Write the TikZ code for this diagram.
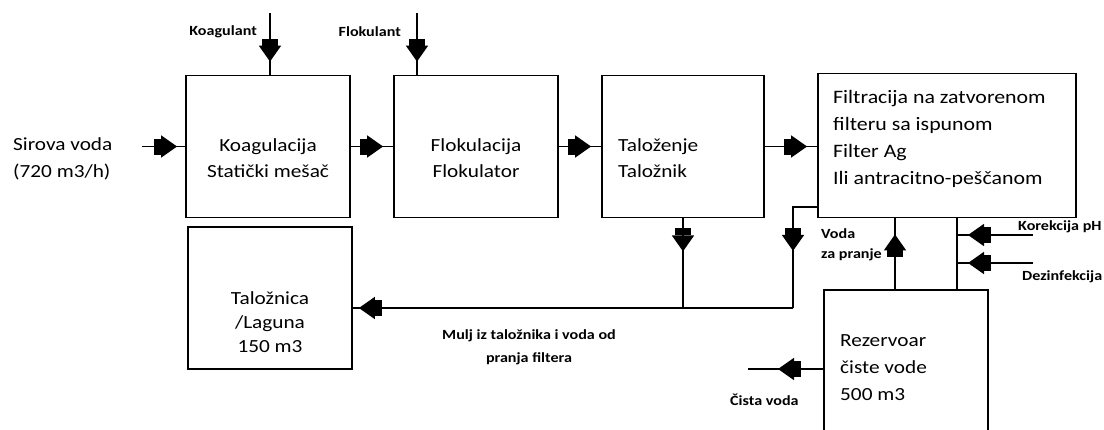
\documentclass[tikz,border=0pt]{standalone}
\usepackage{fontspec}
\setmainfont{Carlito}[FakeStretch=1.15]
\usetikzlibrary{arrows.meta,decorations.markings}
\newcommand\mainsz{\fontsize{18.5pt}{26pt}\selectfont}
\newcommand\wide{\fontsize{18.5pt}{27pt}\selectfont}
\newcommand\smallsz{\fontsize{14pt}{20pt}\selectfont\bfseries}
\tikzset{
  bigtip/.tip={Rectangle[length=7pt,width=16pt,sep=0pt]Triangle[length=16pt,width=22pt,sep=0pt]},
  box/.style={draw, line width=1.8pt, inner sep=0pt},
  conn/.style={line width=1.8pt},
  flowat/.style={postaction={decorate}, decoration={markings, mark=at position #1 with {\arrow{bigtip}}}},
  txt/.style={inner sep=0pt, font=\mainsz, align=center},
  ltxt/.style={inner sep=0pt, font=\wide, align=left, anchor=west},
  lbl/.style={inner sep=0pt, font=\smallsz},
}
\begin{document}
\begin{tikzpicture}[x=1pt,y=-1pt]
\useasboundingbox (0,0) rectangle (1104,429);
\clip (0,0) rectangle (1104,429);
\fill[white] (0,0) rectangle (1104,429);
% boxes
\node[box, minimum width=164pt, minimum height=142pt] (koag) at (268,146.5) {};
\node[box, minimum width=164pt, minimum height=142pt] (flok) at (476,146.5) {};
\node[box, minimum width=162pt, minimum height=142pt] (tal) at (683,146.5) {};
\node[box, minimum width=258pt, minimum height=144pt] (filt) at (947,145.5) {};
\node[box, minimum width=164pt, minimum height=142pt] (lag) at (270,298) {};
\node[box, minimum width=164pt, minimum height=156pt] (res) at (906,368) {};
% box texts
\node[txt] (koagT) at (268,158) {Koagulacija\\Statički mešač};
\node[txt] (flokT) at (476,158) {Flokulacija\\Flokulator};
\node[ltxt, font=\mainsz] (talT) at (618,158) {Taloženje\\Taložnik};
\node[ltxt, font=\fontsize{19pt}{27pt}\selectfont] (filtT) at (833,139) {Filtracija na zatvorenom\\filteru sa ispunom\\Filter Ag\\Ili antracitno-peščanom};
\node[txt, font=\fontsize{18.5pt}{24pt}\selectfont] (lagT) at (270,322) {Taložnica\\/Laguna\\150 m3};
\node[ltxt] (resT) at (840,368) {Rezervoar\\čiste vode\\500 m3};
\node[ltxt] (sirT) at (13,158.5) {Sirova voda\\(720 m3/h)};
% small labels
\node[lbl, anchor=east] (kgL) at (257,32) {Koagulant};
\node[lbl, anchor=east] (flL) at (401,32) {Flokulant};
\node[lbl, anchor=west] (korL) at (1018,227) {Korekcija pH};
\node[lbl, anchor=west] (dezL) at (1022,277) {Dezinfekcija};
\node[lbl, anchor=west, align=left] (vodaL) at (821,245) {Voda\\za pranje};
\node[lbl, align=center, font=\fontsize{14pt}{23pt}\selectfont\bfseries] (muljL) at (529,347) {Mulj iz taložnika i voda od\\pranja filtera};
\node[lbl, anchor=west] (cistaL) at (730,400) {Čista voda};
% coordinates
\coordinate (sirIn) at (142,146.5);
\coordinate (kgIn) at (270,13);
\coordinate (flIn) at (417,13);
\coordinate (jA) at (683,308);
\coordinate (jB) at (793,308);
\coordinate (wA) at (793,207);
\coordinate (vx) at (895,250);
\coordinate (cx) at (957,250);
\coordinate (korIn) at (1033,235);
\coordinate (dezIn) at (1033,263);
\coordinate (cvOut) at (748,369);
% connectors
\draw[conn, flowat=-8pt] (sirIn) -- (koag.west);
\draw[conn, flowat=-13pt] (kgIn) -- (kgIn |- koag.north);
\draw[conn, flowat=-13pt] (flIn) -- (flIn |- flok.north);
\draw[conn, flowat=-10pt] (koag.east) -- (flok.west);
\draw[conn, flowat=-10pt] (flok.east) -- (tal.west);
\draw[conn, flowat=-10pt] (tal.east) -- (tal.east -| filt.west);
\draw[conn, flowat=33pt] (tal.south) -- (jA);
\draw[conn, flowat=68pt] (filt.west |- wA) -- (wA) -- (jB);
\draw[conn, flowat=-6pt] (jB) -- (lag.east |- jB);
\draw[conn, flowat=-16pt] (vx |- res.north) -- (vx |- filt.south);
\draw[conn] (cx |- filt.south) -- (cx |- res.north);
\draw[conn, flowat=-11pt] (korIn) -- (korIn -| cx);
\draw[conn, flowat=-11pt] (dezIn) -- (dezIn -| cx);
\draw[conn, flowat=-30pt] (cvOut -| res.west) -- (cvOut);
\end{tikzpicture}
\end{document}
